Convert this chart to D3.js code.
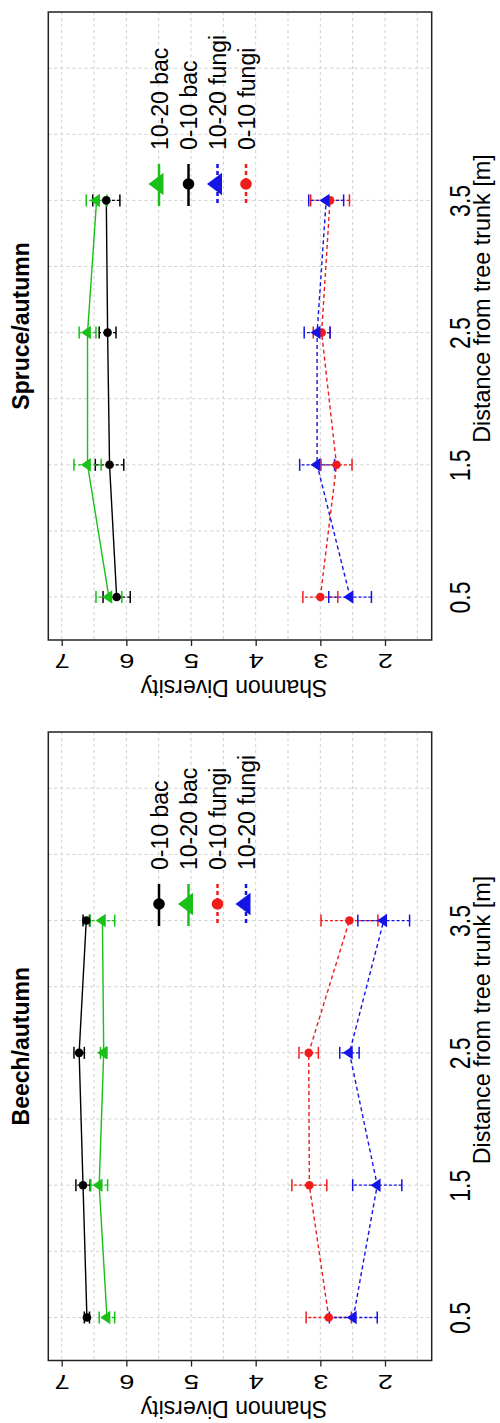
<!DOCTYPE html>
<html>
<head>
<meta charset="utf-8">
<script src="https://cdn.jsdelivr.net/npm/d3@7/dist/d3.min.js"></script>
<style>
  html, body { margin: 0; padding: 0; background: #fff; }
  svg { display: block; }
  text { font-family: "Liberation Sans", Arial, sans-serif; fill: #000; }
</style>
</head>
<body>
<div id="chart"></div>
<script>
// ---------- data ----------
const distance = [0.5, 1.5, 2.5, 3.5];
const distanceTicks = [0.5, 1.5, 2.5, 3.5];
const shannonTicks = [7, 6, 5, 4, 3, 2];
const gridShannon = [7, 6.5, 6, 5.5, 5, 4.5, 4, 3.5, 3, 2.5, 2, 1.5];
const gridDistance = [0.5, 1, 1.5, 2, 2.5, 3, 3.5, 4, 4.5];

// Spruce/autumn
const spruceBac010 = [6.15, 6.26, 6.29, 6.31];
const spruceBac010Err = [0.21, 0.22, 0.13, 0.21];
const spruceBac1020 = [6.27, 6.60, 6.60, 6.46];
const spruceBac1020Err = [0.20, 0.21, 0.13, 0.16];
const spruceFungi010 = [3.00, 2.75, 2.98, 2.85];
const spruceFungi010Err = [0.27, 0.24, 0.13, 0.30];
const spruceFungi1020 = [2.54, 3.05, 3.05, 2.91];
const spruceFungi1020Err = [0.33, 0.27, 0.20, 0.27];

// Beech/autumn
const beechBac010 = [6.61, 6.67, 6.73, 6.62];
const beechBac010Err = [0.04, 0.11, 0.08, 0.05];
const beechBac1020 = [6.30, 6.42, 6.35, 6.37];
const beechBac1020Err = [0.12, 0.13, 0.05, 0.19];
const beechFungi010 = [2.87, 3.17, 3.18, 2.55];
const beechFungi010Err = [0.35, 0.27, 0.15, 0.44];
const beechFungi1020 = [2.49, 2.12, 2.55, 2.02];
const beechFungi1020Err = [0.37, 0.38, 0.15, 0.40];

const spruceLegend = ["10-20 bac", "0-10 bac", "10-20 fungi", "0-10 fungi"];
const beechLegend = ["0-10 bac", "10-20 bac", "0-10 fungi", "10-20 fungi"];

const titles = ["Spruce/autumn", "Beech/autumn"];
const xLabel = "Distance from tree trunk [m]";
const yLabel = "Shannon Diversity";

// ---------- styles ----------
const C = { black: "#000000", green: "#18c018", red: "#f01c1c", blue: "#1414e6" };
const styleBac010 = { color: C.black, shape: "circle", dash: null };
const styleBac1020 = { color: C.green, shape: "triangle", dash: null };
const styleFungi010 = { color: C.red, shape: "circle", dash: "4,3" };
const styleFungi1020 = { color: C.blue, shape: "triangle", dash: "4,3" };

const W = 500, H = 1423;
const svg = d3.select("#chart").append("svg").attr("width", W).attr("height", H);
svg.append("rect").attr("width", W).attr("height", H).attr("fill", "#fff");

const left = 48.3, right = 431.7;
const x = d3.scaleLinear().domain([7.207, 1.278]).range([left, right]);

function triPath(cx, cy, h, b) {
  // apex pointing left
  return `M${cx - h * 2 / 3},${cy} L${cx + h / 3},${cy - b / 2} L${cx + h / 3},${cy + b / 2} Z`;
}

function drawPanel(cfg) {
  const top = cfg.top, bottom = cfg.bottom;
  const y = d3.scaleLinear().domain([0.175, 4.925]).range([bottom, top]);
  const g = svg.append("g");

  // grid
  g.selectAll("line.gv").data(gridShannon).join("line")
    .attr("x1", d => x(d)).attr("x2", d => x(d)).attr("y1", top).attr("y2", bottom)
    .attr("stroke", "#cfcfcf").attr("stroke-width", 1).attr("stroke-dasharray", "3,3");
  g.selectAll("line.gh").data(gridDistance).join("line")
    .attr("x1", left).attr("x2", right).attr("y1", d => y(d)).attr("y2", d => y(d))
    .attr("stroke", "#cfcfcf").attr("stroke-width", 1).attr("stroke-dasharray", "3,3");

  // series
  cfg.series.forEach(s => {
    const pts = distance.map((d, i) => ({ d, v: s.values[i], e: s.errs[i] }));
    const line = d3.line().x(p => x(p.v)).y(p => y(p.d));
    g.append("path").datum(pts).attr("d", line)
      .attr("fill", "none").attr("stroke", s.style.color).attr("stroke-width", 1.4)
      .attr("stroke-dasharray", s.style.dash);
    // error bars
    pts.forEach(p => {
      const yy = y(p.d);
      g.append("line").attr("x1", x(p.v - p.e)).attr("x2", x(p.v + p.e)).attr("y1", yy).attr("y2", yy)
        .attr("stroke", s.style.color).attr("stroke-width", 1.3).attr("stroke-dasharray", "3,2");
      [p.v - p.e, p.v + p.e].forEach(v => {
        g.append("line").attr("x1", x(v)).attr("x2", x(v)).attr("y1", yy - 6).attr("y2", yy + 6)
          .attr("stroke", s.style.color).attr("stroke-width", 1.5);
      });
    });
  });
  cfg.series.forEach(s => {
    distance.forEach((d, i) => {
      const cx = x(s.values[i]), cy = y(d);
      if (s.style.shape === "circle") {
        g.append("circle").attr("cx", cx).attr("cy", cy).attr("r", 4.3).attr("fill", s.style.color);
      } else {
        g.append("path").attr("d", triPath(cx, cy, 10, 13.5)).attr("fill", s.style.color);
      }
    });
  });

  // box
  g.append("rect").attr("x", left).attr("y", top).attr("width", right - left).attr("height", bottom - top)
    .attr("fill", "none").attr("stroke", "#222").attr("stroke-width", 1.5);

  // Shannon axis (bottom in picture, labels upside down)
  const ax = g.append("g").attr("transform", `translate(0,${bottom})`)
    .call(d3.axisBottom(x).tickValues(shannonTicks).tickSize(6).tickSizeOuter(0).tickFormat(d3.format("d")));
  ax.select(".domain").remove();
  ax.selectAll(".tick line").attr("stroke", "#222").attr("stroke-width", 1.3);
  ax.selectAll(".tick text").attr("y", null).attr("dy", null)
    .attr("transform", "translate(0,14) rotate(180) scale(1.3,1)")
    .attr("text-anchor", "middle").style("font-size", "21px")
    .style("font-family", '"Liberation Sans", Arial, sans-serif').attr("fill", "#000");

  // distance axis (right in picture, labels rotated)
  const ay = g.append("g").attr("transform", `translate(${right},0)`)
    .call(d3.axisRight(y).tickValues(distanceTicks).tickSize(0).tickFormat(d3.format(".1f")));
  ay.select(".domain").remove();
  ay.selectAll(".tick text").attr("x", null).attr("dy", null)
    .attr("transform", "translate(38.3,0) rotate(-90) scale(1,1.3)")
    .attr("text-anchor", "middle").style("font-size", "23px")
    .style("font-family", '"Liberation Sans", Arial, sans-serif').attr("fill", "#000");

  // axis labels
  g.append("text").text(yLabel)
    .attr("transform", `translate(234,${bottom + 40.3}) rotate(180)`)
    .attr("text-anchor", "middle").style("font-size", "23px");
  g.append("text").text(xLabel)
    .attr("transform", `translate(490,${cfg.xlabY}) rotate(-90)`)
    .attr("text-anchor", "middle").style("font-size", "23.4px");

  // title
  g.append("text").text(cfg.title)
    .attr("transform", `translate(28.5,${(top + bottom) / 2}) rotate(-90)`)
    .attr("text-anchor", "middle").style("font-size", "23px").style("font-weight", "bold");

  // legend
  const symY = top + 172;
  const legX = [159, 188.5, 217.5, 246];
  cfg.legend.forEach((lab, i) => {
    const s = cfg.series.find(q => q.label === lab);
    const sx = legX[i];
    g.append("line").attr("x1", sx).attr("x2", sx).attr("y1", symY - 20).attr("y2", symY + 22)
      .attr("stroke", s.style.color).attr("stroke-width", 2.5).attr("stroke-dasharray", s.style.dash);
    if (s.style.shape === "circle") {
      g.append("circle").attr("cx", sx).attr("cy", symY).attr("r", 5.8).attr("fill", s.style.color);
    } else {
      g.append("path").attr("d", triPath(sx - 0.5, symY, 15, 22.5)).attr("fill", s.style.color);
    }
    g.append("text").text(lab)
      .attr("transform", `translate(${sx + 8.5},${symY - 34}) rotate(-90)`)
      .attr("text-anchor", "start").style("font-size", "23px");
  });
}

drawPanel({
  title: titles[0], top: 12, bottom: 640, xlabY: 298.5, legend: spruceLegend,
  series: [
    { label: "0-10 bac", values: spruceBac010, errs: spruceBac010Err, style: styleBac010 },
    { label: "10-20 bac", values: spruceBac1020, errs: spruceBac1020Err, style: styleBac1020 },
    { label: "0-10 fungi", values: spruceFungi010, errs: spruceFungi010Err, style: styleFungi010 },
    { label: "10-20 fungi", values: spruceFungi1020, errs: spruceFungi1020Err, style: styleFungi1020 }
  ]
});
drawPanel({
  title: titles[1], top: 732, bottom: 1360.5, xlabY: 1020, legend: beechLegend,
  series: [
    { label: "0-10 bac", values: beechBac010, errs: beechBac010Err, style: styleBac010 },
    { label: "10-20 bac", values: beechBac1020, errs: beechBac1020Err, style: styleBac1020 },
    { label: "0-10 fungi", values: beechFungi010, errs: beechFungi010Err, style: styleFungi010 },
    { label: "10-20 fungi", values: beechFungi1020, errs: beechFungi1020Err, style: styleFungi1020 }
  ]
});
</script>
</body>
</html>
